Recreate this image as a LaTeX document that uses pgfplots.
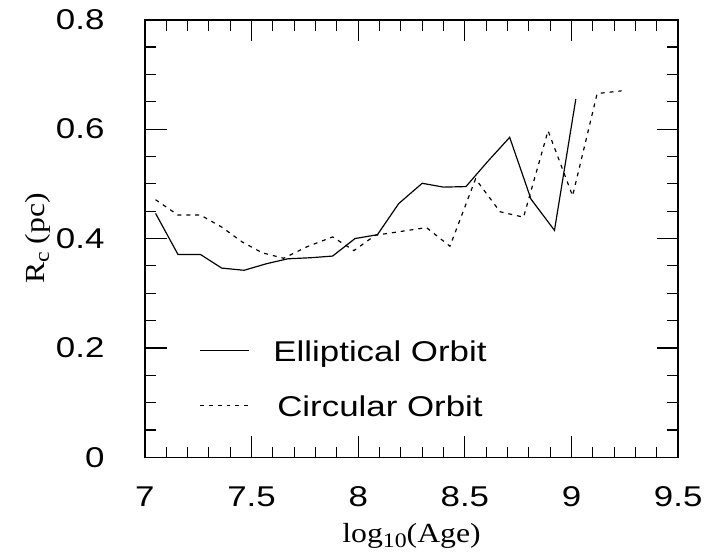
\documentclass[border=0pt]{standalone}
\usepackage{pgfplots}
\pgfplotsset{compat=1.18}
\usepackage{fontspec}
\setmainfont{Liberation Sans}[FakeStretch=1.22]
\newfontfamily\labelfont{Liberation Serif}[FakeStretch=1.15]

% R_c against log10(age), two orbit models
\pgfplotstableread{
x y
7.05 0.446
7.155 0.371
7.26 0.371
7.36 0.346
7.465 0.342
7.57 0.354
7.67 0.363
7.78 0.365
7.88 0.368
7.985 0.400
8.09 0.407
8.19 0.464
8.30 0.501
8.40 0.494
8.505 0.495
8.605 0.540
8.71 0.585
8.81 0.472
8.92 0.415
9.02 0.655
}\elliptical

\pgfplotstableread{
x y
7.05 0.471
7.155 0.443
7.26 0.443
7.36 0.421
7.455 0.394
7.55 0.374
7.65 0.364
7.76 0.385
7.88 0.403
7.98 0.378
8.08 0.406
8.20 0.413
8.32 0.420
8.43 0.386
8.55 0.509
8.665 0.449
8.775 0.439
8.89 0.597
9.005 0.478
9.12 0.665
9.235 0.670
}\circular

\newcommand{\sub}[1]{\raisebox{-0.35ex}{\fontsize{10.5}{12}\selectfont #1}}

\begin{document}
\begin{tikzpicture}
  \begin{axis}[
      scale only axis,
      width=270.5pt, height=222pt,
      xmin=7, xmax=9.5,
      ymin=0, ymax=0.8,
      xtick={7,7.5,8,8.5,9,9.5},
      ytick={0,0.2,0.4,0.6,0.8},
      minor x tick num=4,
      minor y tick num=3,
      tick align=inside,
      tick pos=both,
      major tick length=11pt,
      minor tick length=5.5pt,
      tick style={black, line width=0.6pt},
      axis line style={line width=0.8pt},
      /pgf/number format/assume math mode=true,
      ticklabel style={font=\fontsize{14.5}{17}\selectfont},
      yticklabel style={xshift=-17pt},
      xticklabel style={yshift=-11.5pt},
      xlabel={\labelfont log\sub{10}(Age)},
      ylabel={\labelfont R\sub{c}\ (pc)},
      label style={font=\fontsize{14}{16}\selectfont},
      ylabel style={yshift=-4pt},
      xlabel style={yshift=-1.5pt},
      legend style={draw=none, fill=none, inner sep=0pt, outer sep=0pt,
        at={(axis cs:7.255,0.211)}, anchor=north west,
        font=\fontsize{14.5}{17}\selectfont,
        nodes={inner sep=0pt, text height=10pt, text depth=3pt},
        row sep=14.75pt,
        /tikz/every odd column/.append style={column sep=12pt}},
      legend image code/.code={\draw[#1] (0pt,2pt) -- (25pt,2pt);},
    ]
    \addplot[black, line width=0.6pt] table[x=x, y=y] {\elliptical};
    \addlegendentry{Elliptical Orbit}
    \addplot[black, line width=0.6pt, dash pattern=on 2pt off 2.5pt] table[x=x, y=y] {\circular};
    \addlegendentry{Circular Orbit}
  \end{axis}
  \path (current axis.south west) ++(-73.5pt,-44pt);
  \path (current axis.north east) ++(10.5pt,10pt);
\end{tikzpicture}
\end{document}
